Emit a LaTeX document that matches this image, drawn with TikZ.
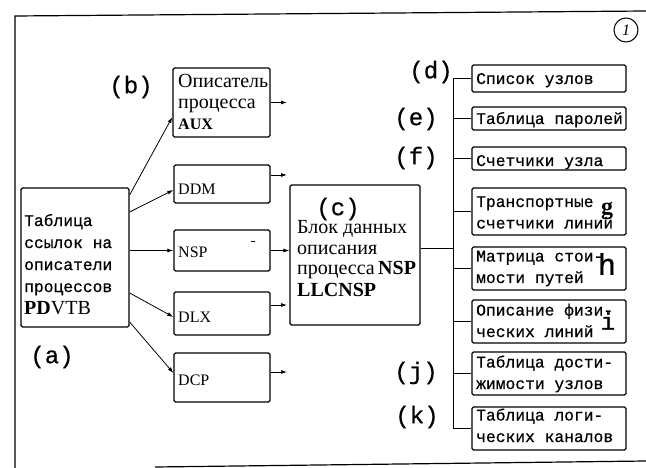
\documentclass[tikz,border=0pt]{standalone}
\usepackage{fontspec}
\setmainfont{Liberation Serif}
\newfontfamily\mono[FakeBold=0.6]{Liberation Mono}
\usetikzlibrary{arrows.meta,calc}
\begin{document}
\begin{tikzpicture}[x=1pt,y=-1pt,
 box/.style={draw,line width=1.3pt,rounded corners=1.5pt,inner sep=0pt},
 tm/.style={font=\mono\fontsize{16.3}{21.5}\selectfont,align=left,inner sep=0pt,anchor=base west},
 ts/.style={font=\fontsize{20}{21}\selectfont,align=left,inner sep=0pt,anchor=base west},
 tl/.style={font=\fontsize{16}{21}\selectfont,inner sep=0pt,anchor=base west},
 lbl/.style={font=\mono\fontsize{24}{24}\selectfont,inner sep=0pt},
 arr/.style={-{Latex[length=6pt,width=4pt]},line width=0.8pt},
 ln/.style={line width=0.9pt}]
\useasboundingbox (0,0) rectangle (646,468);
% frame
\draw[line width=1.2pt] (646,11) -- (15,16) -- (15,468);
\draw[line width=1.2pt] (155,467) -- (646,461);
\node[draw,circle,line width=1pt,minimum size=24pt,inner sep=0pt,font=\itshape\fontsize{16}{16}\selectfont] (one) at (626,30) {1};
% boxes
\node[box,minimum width=108pt,minimum height=139pt] (a) at (75,257.5) {};
\node[box,minimum width=97pt,minimum height=69pt] (aux) at (221.5,102.5) {};
\node[box,minimum width=96pt,minimum height=38pt] (ddm) at (222,184) {};
\node[box,minimum width=96pt,minimum height=41pt] (nsp) at (222,250.5) {};
\node[box,minimum width=96pt,minimum height=43pt] (dlx) at (222,313.5) {};
\node[box,minimum width=96pt,minimum height=49pt] (dcp) at (222,377.5) {};
\node[box,minimum width=130pt,minimum height=140pt] (c) at (355,255) {};
\node[box,minimum width=154pt,minimum height=27pt] (d) at (549,78.5) {};
\node[box,minimum width=154pt,minimum height=23pt] (e) at (549,118.5) {};
\node[box,minimum width=154pt,minimum height=23pt] (f) at (549,158.5) {};
\node[box,minimum width=154pt,minimum height=47pt] (g) at (549,211.5) {};
\node[box,minimum width=154pt,minimum height=43pt] (h) at (549,268.5) {};
\node[box,minimum width=154pt,minimum height=43pt] (i) at (549,321.5) {};
\node[box,minimum width=154pt,minimum height=43pt] (j) at (549,373.5) {};
\node[box,minimum width=154pt,minimum height=43pt] (k) at (549,428.5) {};
% texts (anchor = baseline of the last line)
\node[tm,font=\mono\fontsize{16.3}{22}\selectfont] (ta) at (24,314) {Таблица\\ссылок на\\описатели\\процессов\\{\rmfamily\fontsize{20}{22}\selectfont\bfseries PD}{\rmfamily\fontsize{20}{22}\selectfont VTB}};
\node[ts] (taux) at (178,130) {Описатель\\процесса\\{\fontsize{16}{21}\selectfont\bfseries AUX}};
\node[tl] (tddm) at (178,195) {DDM};
\node[tl] (tnsp) at (178,258) {NSP};
\node[tl] (tdlx) at (178,323) {DLX};
\node[tl] (tdcp) at (178,385) {DCP};
\node[ts] (tc) at (297,296) {Блок данных\\описания\\процесса\,\textbf{NSP}\\\textbf{LLCNSP}};
\node[tm] (td) at (476,84) {Список узлов};
\node[tm] (te) at (476,124) {Таблица паролей};
\node[tm] (tf) at (476,166) {Счетчики узла};
\node[tm] (tg) at (476,228.5) {Транспортные\\счетчики линий};
\node[tm] (th) at (476,283) {Матрица стои-\\мости путей};
\node[tm] (ti) at (476,337) {Описание физи-\\ческих линий};
\node[tm] (tj) at (476,389) {Таблица дости-\\жимости узлов};
\node[tm] (tk) at (476,442) {Таблица логи-\\ческих каналов};
% letters
\node[font=\bfseries\fontsize{24}{24}\selectfont,inner sep=0pt] (lg) at (607,211) {g};
\node[font=\mono\fontsize{30}{30}\selectfont,inner sep=0pt] (lh) at (607,264) {h};
\node[font=\mono\fontsize{24}{24}\selectfont,inner sep=0pt] (li) at (608,321) {i};
% labels
\node[lbl] (la) at (52,357) {(a)};
\node[lbl] (lb) at (131,87) {(b)};
\node[lbl] (lc) at (338,209) {(c)};
\node[lbl] (ld) at (431,72) {(d)};
\node[lbl] (le) at (416,119) {(e)};
\node[lbl] (lf) at (416,158) {(f)};
\node[lbl] (lj) at (416,373) {(j)};
\node[lbl] (lk) at (417,417) {(k)};
% arrows from a
\draw[arr] ([yshift=62.5pt]a.east) -- ([yshift=-14.5pt]aux.west);
\draw[arr] ([yshift=45.5pt]a.east) -- ([yshift=-6pt]ddm.west);
\draw[arr] (a.east |- nsp.west) -- (nsp.west);
\draw[arr] ([yshift=-35.5pt]a.east) -- ([yshift=-3.5pt]dlx.west);
\draw[arr] ([yshift=-64.5pt]a.east) -- ([yshift=4.5pt]dcp.west);
% out arrows
\coordinate (auxo) at (287,102.5);
\coordinate (ddmo) at (287,175);
\coordinate (dlxo) at (287,305);
\coordinate (dcpo) at (287,372);
\draw[arr] (aux.east) -- (auxo);
\draw[arr] ([yshift=9pt]ddm.east) -- (ddmo);
\draw[arr] ([yshift=8.5pt]dlx.east) -- (dlxo);
\draw[arr] ([yshift=5.5pt]dcp.east) -- (dcpo);
\draw[arr] (nsp.east) -- (nsp.east -| c.west);
\draw[line width=0.6pt] (251,241) -- (255,241);
% bus
\coordinate (bustop) at (453,78.5);
\coordinate (busbot) at (453,428.5);
\draw[ln] (d.west) -- (bustop) -- (busbot) -- (k.west);
\draw[ln] ([yshift=7pt]c.east) -- ([yshift=7pt]c.east -| bustop);
\foreach \n in {e,f,g,h,i,j} \draw[ln] (\n.west) -- (\n.west -| bustop);
\end{tikzpicture}
\end{document}
